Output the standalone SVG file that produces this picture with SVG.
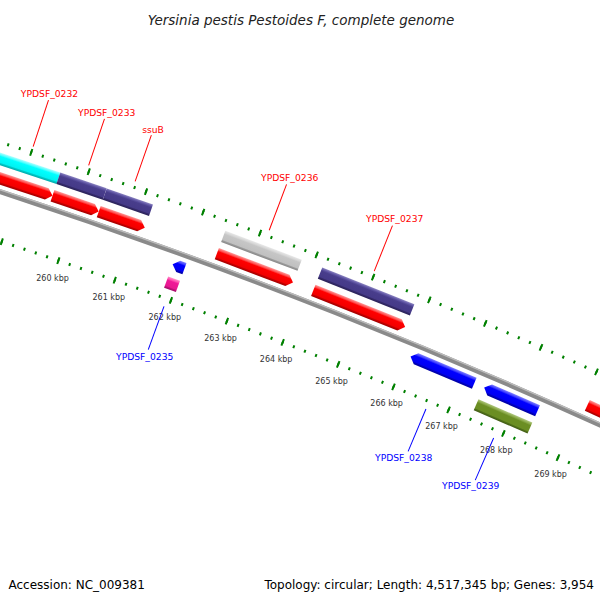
<svg xmlns="http://www.w3.org/2000/svg" width="600" height="600" viewBox="0 0 600 600">
<style>
text{font-family:"DejaVu Sans","Liberation Sans",sans-serif}
.title{font-size:13.5px;font-style:italic;fill:#222;text-anchor:middle}
.foot{font-size:12px;fill:#000}
.kbp{font-size:8px;fill:#333;text-anchor:middle}
.lab{font-size:9.2px;text-anchor:middle}
.fl{fill:#f00}
.rl{fill:#00f}
.lf{stroke:#f00;stroke-width:1;fill:none}
.lr{stroke:#00f;stroke-width:1;fill:none}
.tk{fill:none;stroke:#008000;stroke-dashoffset:1}
</style>
<defs>
<linearGradient id="gRed" x1="0" y1="0" x2="0" y2="1"><stop offset="0" stop-color="#ff9a9a"/><stop offset="0.18" stop-color="#ff5050"/><stop offset="0.3" stop-color="#ff0000"/><stop offset="0.78" stop-color="#f20000"/><stop offset="0.86" stop-color="#c40000"/><stop offset="1" stop-color="#a00000"/></linearGradient>
<linearGradient id="gCyan" x1="0" y1="0" x2="0" y2="1"><stop offset="0" stop-color="#b0ffff"/><stop offset="0.18" stop-color="#50ffff"/><stop offset="0.3" stop-color="#00ffff"/><stop offset="0.78" stop-color="#00f2f2"/><stop offset="0.86" stop-color="#00c8c8"/><stop offset="1" stop-color="#00aaaa"/></linearGradient>
<linearGradient id="gPur" x1="0" y1="0" x2="0" y2="1"><stop offset="0" stop-color="#8a82c0"/><stop offset="0.18" stop-color="#5a50a0"/><stop offset="0.3" stop-color="#483d8b"/><stop offset="0.78" stop-color="#453a88"/><stop offset="0.86" stop-color="#342a6a"/><stop offset="1" stop-color="#2a2258"/></linearGradient>
<linearGradient id="gGray" x1="0" y1="0" x2="0" y2="1"><stop offset="0" stop-color="#e8e8e8"/><stop offset="0.18" stop-color="#d6d6d6"/><stop offset="0.3" stop-color="#c6c6c6"/><stop offset="0.78" stop-color="#c0c0c0"/><stop offset="0.86" stop-color="#9a9a9a"/><stop offset="1" stop-color="#888888"/></linearGradient>
<linearGradient id="gBlue" x1="0" y1="0" x2="0" y2="1"><stop offset="0" stop-color="#8080ff"/><stop offset="0.18" stop-color="#4040ff"/><stop offset="0.3" stop-color="#0000ff"/><stop offset="0.78" stop-color="#0000f2"/><stop offset="0.86" stop-color="#0000c0"/><stop offset="1" stop-color="#0000a0"/></linearGradient>
<linearGradient id="gOlive" x1="0" y1="0" x2="0" y2="1"><stop offset="0" stop-color="#b0c880"/><stop offset="0.18" stop-color="#8aa848"/><stop offset="0.3" stop-color="#6b8e23"/><stop offset="0.78" stop-color="#6b8e23"/><stop offset="0.86" stop-color="#50701a"/><stop offset="1" stop-color="#405a14"/></linearGradient>
<linearGradient id="gPink" x1="0" y1="0" x2="0" y2="1"><stop offset="0" stop-color="#ff90c8"/><stop offset="0.18" stop-color="#ff50b0"/><stop offset="0.3" stop-color="#f01898"/><stop offset="0.78" stop-color="#e81890"/><stop offset="0.86" stop-color="#c0107a"/><stop offset="1" stop-color="#a00c66"/></linearGradient>
</defs>
<rect width="600" height="600" fill="#fff"/>
<text class="title" x="301" y="24.5">Yersinia pestis Pestoides F, complete genome</text>

<g id="map" transform="translate(-1812,5736)">
  <g id="backbone">
    <circle r="5833" fill="none" stroke="#8a8a8a" stroke-width="5"/>
    <circle r="5834.8" fill="none" stroke="#bcbcbc" stroke-width="1.4"/>
  </g>
  <g id="ruler-outer" transform="rotate(17.0867)">
    <path class="tk" d="M0,-5880 A5880,5880 0 0 1 1521.86,-5679.64" stroke-width="3" stroke-dasharray="2 10.133"/>
    <path class="tk" d="M0,-5880 A5880,5880 0 0 1 1521.86,-5679.64" stroke-width="7" stroke-dasharray="2 58.663"/>
  </g>
  <g id="ruler-inner" transform="rotate(17.0867)">
    <path class="tk" d="M0,-5786 A5786,5786 0 0 1 1497.53,-5588.85" stroke-width="3" stroke-dasharray="2 9.939"/>
    <path class="tk" d="M0,-5786 A5786,5786 0 0 1 1497.53,-5588.85" stroke-width="7" stroke-dasharray="2 57.693"/>
  </g>
  <g id="ruler-labels">
    <g transform="rotate(18.86)"><text class="kbp" transform="translate(0,-5768) rotate(-18.86)" y="3">260 kbp</text></g>
    <g transform="rotate(19.4511)"><text class="kbp" transform="translate(0,-5768) rotate(-19.4511)" y="3">261 kbp</text></g>
    <g transform="rotate(20.0422)"><text class="kbp" transform="translate(0,-5768) rotate(-20.0422)" y="3">262 kbp</text></g>
    <g transform="rotate(20.6333)"><text class="kbp" transform="translate(0,-5768) rotate(-20.6333)" y="3">263 kbp</text></g>
    <g transform="rotate(21.2244)"><text class="kbp" transform="translate(0,-5768) rotate(-21.2244)" y="3">264 kbp</text></g>
    <g transform="rotate(21.8155)"><text class="kbp" transform="translate(0,-5768) rotate(-21.8155)" y="3">265 kbp</text></g>
    <g transform="rotate(22.4066)"><text class="kbp" transform="translate(0,-5768) rotate(-22.4066)" y="3">266 kbp</text></g>
    <g transform="rotate(22.9977)"><text class="kbp" transform="translate(0,-5768) rotate(-22.9977)" y="3">267 kbp</text></g>
    <g transform="rotate(23.5888)"><text class="kbp" transform="translate(0,-5768) rotate(-23.5888)" y="3">268 kbp</text></g>
    <g transform="rotate(24.1799)"><text class="kbp" transform="translate(0,-5768) rotate(-24.1799)" y="3">269 kbp</text></g>
  </g>

  <g id="connectors">
    <line class="lf" transform="rotate(18.269)" x1="0" y1="-5886" x2="0" y2="-5935"/>
    <line class="lf" transform="rotate(18.839)" x1="0" y1="-5886" x2="0" y2="-5935"/>
    <line class="lf" transform="rotate(19.318)" x1="0" y1="-5886" x2="0" y2="-5935"/>
    <line class="lf" transform="rotate(20.707)" x1="0" y1="-5886" x2="0" y2="-5935"/>
    <line class="lf" transform="rotate(21.804)" x1="0" y1="-5886" x2="0" y2="-5935"/>
    <line class="lr" transform="rotate(19.998)" x1="0" y1="-5778" x2="0" y2="-5732"/>
    <line class="lr" transform="rotate(22.788)" x1="0" y1="-5778" x2="0" y2="-5732"/>
    <line class="lr" transform="rotate(23.518)" x1="0" y1="-5778" x2="0" y2="-5732"/>
  </g>

  <g id="YPDSF_0232">
    <rect transform="rotate(18.269) translate(0,-5864)" x="-33.88" y="-6" width="67.76" height="12" fill="url(#gCyan)"/>
    <polygon transform="rotate(18.269) translate(0,-5845.5)" points="-33.75,-6 27.75,-6 33.75,0 27.75,6 -33.75,6" fill="url(#gRed)"/>
  </g>
  <g id="YPDSF_0233">
    <rect transform="rotate(18.839) translate(0,-5864)" x="-24.5" y="-6" width="49" height="12" fill="url(#gPur)"/>
    <polygon transform="rotate(18.839) translate(0,-5845.5)" points="-24.4,-6 18.4,-6 24.4,0 18.4,6 -24.4,6" fill="url(#gRed)"/>
  </g>
  <g id="ssuB">
    <rect transform="rotate(19.318) translate(0,-5864)" x="-24.5" y="-6" width="49" height="12" fill="url(#gPur)"/>
    <polygon transform="rotate(19.318) translate(0,-5845.5)" points="-24.4,-6 18.4,-6 24.4,0 18.4,6 -24.4,6" fill="url(#gRed)"/>
  </g>
  <g id="YPDSF_0235">
    <polygon transform="rotate(19.998) translate(0,-5820.5)" points="-6.3,0 -0.3,-6 6.3,-6 6.3,6 -0.3,6" fill="url(#gBlue)"/>
    <rect transform="rotate(19.998) translate(0,-5801.5)" x="-6.3" y="-6" width="12.6" height="12" fill="url(#gPink)"/>
  </g>
  <g id="YPDSF_0236">
    <rect transform="rotate(20.707) translate(0,-5864)" x="-40.85" y="-6" width="81.7" height="12" fill="url(#gGray)"/>
    <polygon transform="rotate(20.707) translate(0,-5845.5)" points="-40.7,-6 34.7,-6 40.7,0 34.7,6 -40.7,6" fill="url(#gRed)"/>
  </g>
  <g id="YPDSF_0237">
    <rect transform="rotate(21.804) translate(0,-5864)" x="-49.6" y="-6" width="99.2" height="12" fill="url(#gPur)"/>
    <polygon transform="rotate(21.804) translate(0,-5845.5)" points="-49.45,-6 43.45,-6 49.45,0 43.45,6 -49.45,6" fill="url(#gRed)"/>
  </g>
  <g id="YPDSF_0238">
    <polygon transform="rotate(22.788) translate(0,-5820.5)" points="-34.55,0 -28.55,-6 34.55,-6 34.55,6 -28.55,6" fill="url(#gBlue)"/>
  </g>
  <g id="YPDSF_0239">
    <polygon transform="rotate(23.521) translate(0,-5820.5)" points="-29.1,0 -23.1,-6 29.1,-6 29.1,6 -23.1,6" fill="url(#gBlue)"/>
    <rect transform="rotate(23.518) translate(0,-5801.5)" x="-29.35" y="-6" width="58.7" height="12" fill="url(#gOlive)"/>
  </g>
  <g id="YPDSF_0240">
    <polygon transform="rotate(24.679) translate(0,-5845.5)" points="-45.55,-6 39.55,-6 45.55,0 39.55,6 -45.55,6" fill="url(#gRed)"/>
  </g>
</g>

<g id="labels">
  <text class="lab fl" x="49.5" y="97.3">YPDSF_0232</text>
  <text class="lab fl" x="106.7" y="116">YPDSF_0233</text>
  <text class="lab fl" x="153" y="132.7">ssuB</text>
  <text class="lab fl" x="289.7" y="181">YPDSF_0236</text>
  <text class="lab fl" x="394.7" y="222.3">YPDSF_0237</text>
  <text class="lab rl" x="144.7" y="360">YPDSF_0235</text>
  <text class="lab rl" x="403.7" y="461">YPDSF_0238</text>
  <text class="lab rl" x="470.7" y="489.3">YPDSF_0239</text>
</g>

<text class="foot" x="8.5" y="589">Accession: NC_009381</text>
<text class="foot" x="594" y="589" text-anchor="end">Topology: circular; Length: 4,517,345 bp; Genes: 3,954</text>
</svg>
